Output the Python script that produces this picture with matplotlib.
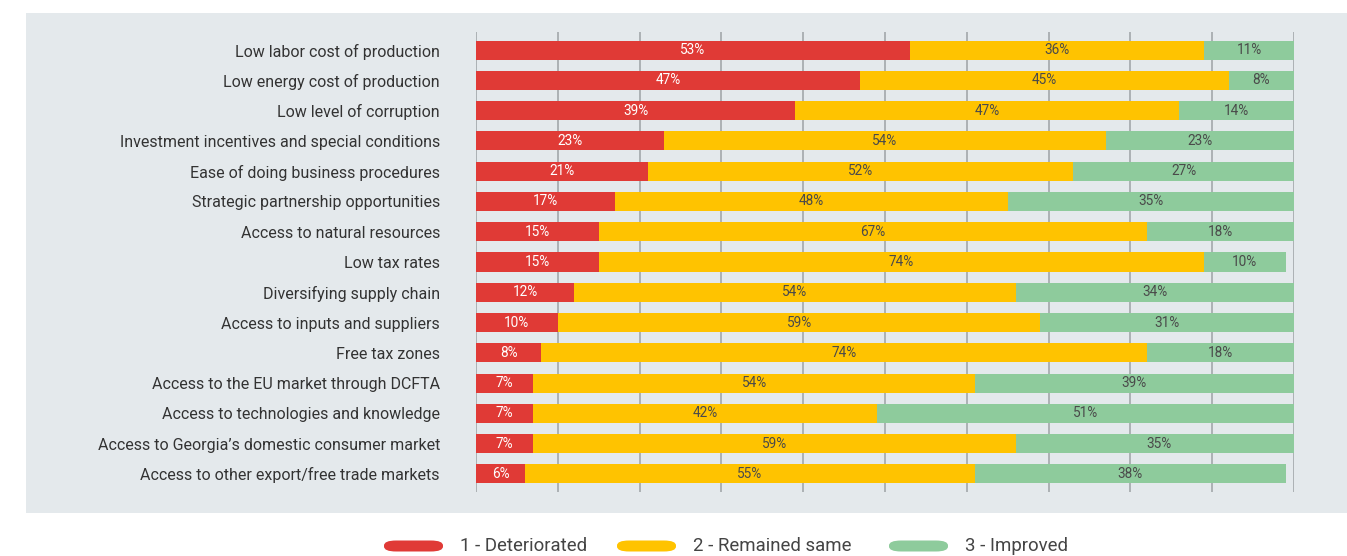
import matplotlib
matplotlib.use("Agg")
import matplotlib.pyplot as plt
from matplotlib.patches import Rectangle, FancyBboxPatch

plt.rcParams["font.family"] = ["Roboto", "DejaVu Sans"]

categories = [
    "Low labor cost of production",
    "Low energy cost of production",
    "Low level of corruption",
    "Investment incentives and special conditions",
    "Ease of doing business procedures",
    "Strategic partnership opportunities",
    "Access to natural resources",
    "Low tax rates",
    "Diversifying supply chain",
    "Access to inputs and suppliers",
    "Free tax zones",
    "Access to the EU market through DCFTA",
    "Access to technologies and knowledge",
    "Access to Georgia\u2019s domestic consumer market",
    "Access to other export/free trade markets",
]
deteriorated = [53, 47, 39, 23, 21, 17, 15, 15, 12, 10, 8, 7, 7, 7, 6]
remained_same = [36, 45, 47, 54, 52, 48, 67, 74, 54, 59, 74, 54, 42, 59, 55]
improved = [11, 8, 14, 23, 27, 35, 18, 10, 34, 31, 18, 39, 51, 35, 38]

series_names = ["1 - Deteriorated", "2 - Remained same", "3 - Improved"]
colors = ["#e03a36", "#ffc300", "#8ecb9c"]
text_colors = ["#ffffff", "#4a4a4a", "#4a4a4a"]

fig = plt.figure(figsize=(13.47, 5.56), dpi=100)
fig.patch.set_facecolor("white")

# light panel behind the chart
fig.patches.append(Rectangle((26 / 1347, 1 - 513 / 556), 1 - 26 / 1347, 500 / 556,
                             transform=fig.transFigure, facecolor="#e4e9ec",
                             edgecolor="none", zorder=-10))

ax = fig.add_axes([476 / 1347, 1 - 492 / 556, 818 / 1347, 460 / 556])
ax.set_facecolor("none")

y = list(range(len(categories)))
left = [0] * len(categories)
for vals, col, tcol in zip([deteriorated, remained_same, improved], colors, text_colors):
    ax.barh(y, vals, left=left, height=0.63, color=col, edgecolor="none", zorder=2)
    for yi, (l, v) in enumerate(zip(left, vals)):
        ax.text(l + v / 2, yi, f"{v}%", ha="center", va="center",
                color=tcol, fontsize=9.8, zorder=3)
    left = [l + v for l, v in zip(left, vals)]

ax.set_xlim(0, 100)
ax.set_ylim(len(categories) - 1 + 0.6, -0.6)
ax.set_xticks(range(0, 101, 10))
ax.set_xticklabels([])
ax.tick_params(axis="x", length=0)
ax.grid(axis="x", color="#a8adb0", linewidth=1.3, zorder=1)
ax.set_yticks(y)
ax.set_yticklabels(categories, fontsize=11.5, color="#333333")
ax.tick_params(axis="y", length=0, pad=26)
for s in ax.spines.values():
    s.set_visible(False)

# legend with pill-shaped swatches
legend_items = [(384, 460), (617, 693), (889, 965)]
for (px, tx), name, col in zip(legend_items, series_names, colors):
    w, h = 59 / 1347, 11 / 556
    yc = 1 - 546 / 556
    pill = FancyBboxPatch((px / 1347, yc - h / 2), w, h,
                          boxstyle="round,pad=0,rounding_size=0.009",
                          transform=fig.transFigure, facecolor=col,
                          edgecolor="none", mutation_aspect=556 / 1347 * 2.4)
    fig.patches.append(pill)
    fig.text(tx / 1347, yc, name, ha="left", va="center",
             fontsize=13.4, color="#444444")

fig.savefig("out.png", dpi=100)
